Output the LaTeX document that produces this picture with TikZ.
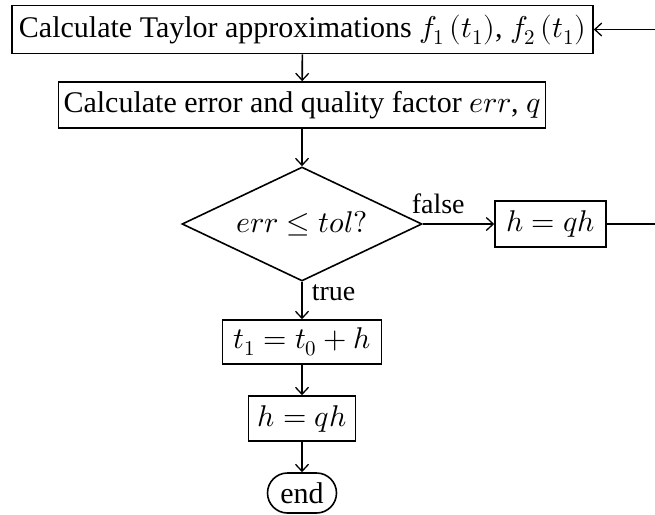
\documentclass[tikz,border=0pt]{standalone}
\usepackage{fontspec}
\usepackage{unicode-math}
\setmainfont{Liberation Serif}
\setmathfont{Latin Modern Math}
\usetikzlibrary{arrows.meta,shapes.geometric}
\begin{document}
\begin{tikzpicture}[x=1pt,y=-1pt,
  line width=1.6pt,
  every node/.style={font=\fontsize{30}{36}\selectfont},
  box/.style={draw, rectangle, inner sep=0pt, align=center},
  decision/.style={draw, diamond, aspect=2.1, inner sep=0pt, minimum width=240pt, minimum height=114pt},
  terminal/.style={draw, rectangle, rounded corners=20pt, inner sep=0pt, minimum width=69pt, minimum height=40pt},
  lbl/.style={font=\fontsize{28}{34}\selectfont, inner sep=0pt},
  arr/.style={-{Straight Barb[length=7pt,width=13pt,line width=1.3pt]}}]
\useasboundingbox (0,0) rectangle (655,514);
\clip (0,0) rectangle (655,514);

\node[box, minimum width=581pt, minimum height=48pt] (taylor) at (302.5,29.5)
  {Calculate Taylor approximations $f_1\,(t_1)$, $f_2\,(t_1)$};
\node[box, minimum width=487pt, minimum height=46pt] (err) at (302,105)
  {Calculate error and quality factor $err$, $q$};
\node[decision] (dec) at (302,224) {$err \leq tol?$};
\node[box, minimum width=111pt, minimum height=46pt] (upd) at (550.5,224) {$h = qh$};
\node[box, minimum width=159pt, minimum height=44pt] (tone) at (302,342) {$t_1 = t_0 + h$};
\node[box, minimum width=107pt, minimum height=45pt] (hq) at (302,418.5) {$h = qh$};
\node[terminal] (end) at (302,493) {end};

\node[lbl, anchor=base west] (flab) at (411,213) {false};
\node[lbl, anchor=base west] (tlab) at (311,300) {true};

\draw[arr] (taylor) -- (err);
\draw[arr] (err) -- (dec);
\draw[arr] (dec) -- (upd);
\draw[arr] (dec) -- (tone);
\draw[arr] (tone) -- (hq);
\draw[arr] (hq) -- (end);
\draw[arr] (upd.east) -- ++(70,0) |- (taylor.east);
\end{tikzpicture}
\end{document}
